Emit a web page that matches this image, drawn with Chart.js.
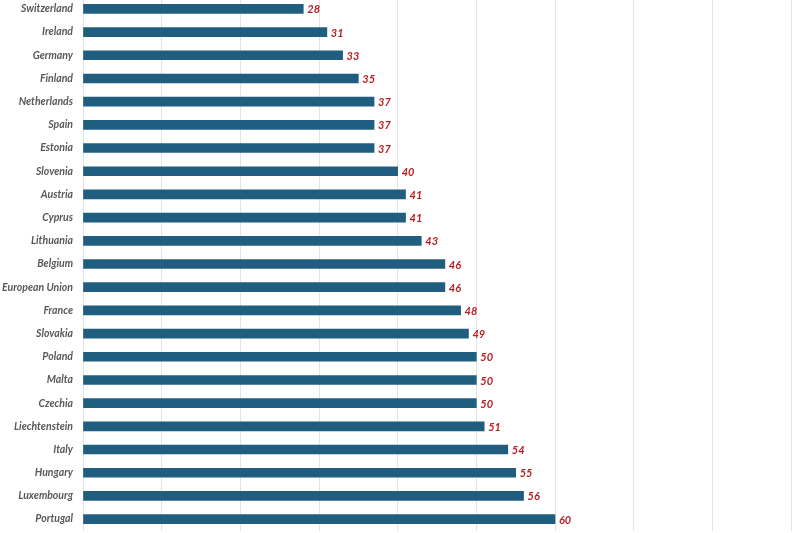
<!DOCTYPE html>
<html>
<head>
<meta charset="utf-8">
<script src="https://cdn.jsdelivr.net/npm/chart.js@4/dist/chart.umd.min.js"></script>
<style>
  html, body { margin: 0; padding: 0; background: #fff; overflow: hidden; }
  #wrap { position: absolute; left: 0; top: -19px; width: 800px; height: 566px; }
</style>
</head>
<body>
<div id="wrap"><canvas id="chart"></canvas></div>
<script>
const countries = ['Switzerland', 'Ireland', 'Germany', 'Finland', 'Netherlands', 'Spain', 'Estonia',
  'Slovenia', 'Austria', 'Cyprus', 'Lithuania', 'Belgium', 'European Union', 'France', 'Slovakia',
  'Poland', 'Malta', 'Czechia', 'Liechtenstein', 'Italy', 'Hungary', 'Luxembourg', 'Portugal'];
const values = [28, 31, 33, 35, 37, 37, 37, 40, 41, 41, 43, 46, 46, 48, 49, 50, 50, 50, 51, 54, 55, 56, 60];
const xTicks = [0, 10, 20, 30, 40, 50, 60, 70, 80, 90];

const barColor = '#1f5e7e';
const valueColor = '#b81f24';

// value labels at the end of each bar
const valueLabels = {
  id: 'valueLabels',
  afterDatasetsDraw(chart) {
    const ctx = chart.ctx;
    const meta = chart.getDatasetMeta(0);
    ctx.save();
    ctx.font = 'italic bold 11px Lato';
    ctx.fillStyle = valueColor;
    ctx.textAlign = 'left';
    ctx.textBaseline = 'middle';
    meta.data.forEach(function (bar, i) {
      ctx.fillText(values[i], bar.x + 4, bar.y + 1);
    });
    ctx.restore();
  }
};

new Chart(document.getElementById('chart'), {
  type: 'bar',
  data: {
    labels: countries,
    datasets: [{
      data: values,
      backgroundColor: barColor,
      borderWidth: 0,
      barThickness: 9
    }]
  },
  options: {
    indexAxis: 'y',
    responsive: true,
    maintainAspectRatio: false,
    animation: false,
    layout: { padding: { left: 0, right: 9, top: 0, bottom: 7 } },
    plugins: {
      legend: { display: false },
      title: { display: false },
      tooltip: { enabled: false }
    },
    scales: {
      x: {
        min: 0,
        max: 90,
        afterBuildTicks: function (axis) {
          axis.ticks = xTicks.map(function (v) { return { value: v }; });
        },
        ticks: { display: false },
        grid: { color: '#e3e3e3', lineWidth: 1, drawTicks: false },
        border: { display: false }
      },
      y: {
        afterFit: function (axis) { axis.width = 83; },
        grid: { display: false, drawTicks: false },
        border: { display: false },
        ticks: {
          padding: 10,
          color: '#595959',
          font: { family: 'Lato', size: 10.5, style: 'italic', weight: 'bold' }
        }
      }
    }
  },
  plugins: [valueLabels]
});
</script>
</body>
</html>
